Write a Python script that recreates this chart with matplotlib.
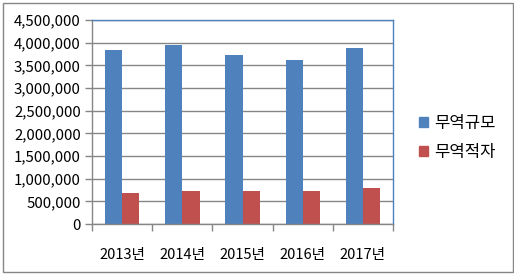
import numpy as np
import matplotlib.pyplot as plt
from matplotlib.patches import Patch, Rectangle
from matplotlib.ticker import FuncFormatter

plt.rcParams['font.family'] = ['Noto Sans CJK KR', 'DejaVu Sans']

years = ["2013년", "2014년", "2015년", "2016년", "2017년"]
trade_volume = [3840000, 3950000, 3730000, 3620000, 3880000]
trade_deficit = [690000, 730000, 730000, 730000, 795000]
series_names = ["무역규모", "무역적자"]

BLUE = "#4F81BD"
RED = "#C0504D"
GRID = "#868686"

W, H = 514, 275
fig = plt.figure(figsize=(W / 100, H / 100), dpi=100)
ax = fig.add_axes([92 / W, 1 - 224 / H, (393 - 92) / W, (224 - 20) / H])

x = np.arange(len(years))
bw = 1 / 3.5  # excel gap width 150%
ax.bar(x - bw / 2, trade_volume, bw, color=BLUE, zorder=3)
ax.bar(x + bw / 2, trade_deficit, bw, color=RED, zorder=3)

ax.set_xlim(-0.5, len(years) - 0.5)
ax.set_ylim(0, 4500000)
ax.set_yticks(np.arange(0, 4500001, 500000))
ax.yaxis.set_major_formatter(FuncFormatter(lambda v, p: f"{int(v):,}"))
ax.yaxis.grid(True, color=GRID, linewidth=1, zorder=0)

# category labels centred, ticks at category boundaries
ax.set_xticks(x)
ax.set_xticklabels(years, fontsize=10.5)
ax.tick_params(axis="x", length=0, pad=17)
ax.set_xticks(np.arange(-0.5, len(years) + 0.5, 1), minor=True)
ax.tick_params(axis="x", which="minor", length=5, color=GRID, width=1)
ax.tick_params(axis="y", length=5, color=GRID, width=1, labelsize=10.8, pad=3)

ax.spines["left"].set_color(GRID)
ax.spines["bottom"].set_color(GRID)
ax.spines["top"].set_color(BLUE)
ax.spines["right"].set_color(BLUE)
for s in ax.spines.values():
    s.set_linewidth(1)
    s.set_zorder(4)

handles = [Patch(color=BLUE), Patch(color=RED)]
fig.legend(handles, series_names, loc="center left",
           bbox_to_anchor=(419 / W, 1 - 138 / H), frameon=False,
           fontsize=12, handlelength=0.55, handleheight=0.55,
           handletextpad=0.35, labelspacing=0.7, borderpad=0, borderaxespad=0)

fig.patches.append(Rectangle((3 / W, 3 / H), 510 / W, 269 / H, transform=fig.transFigure,
                             fill=False, edgecolor=GRID, linewidth=1))

fig.savefig("out.png", dpi=100)
